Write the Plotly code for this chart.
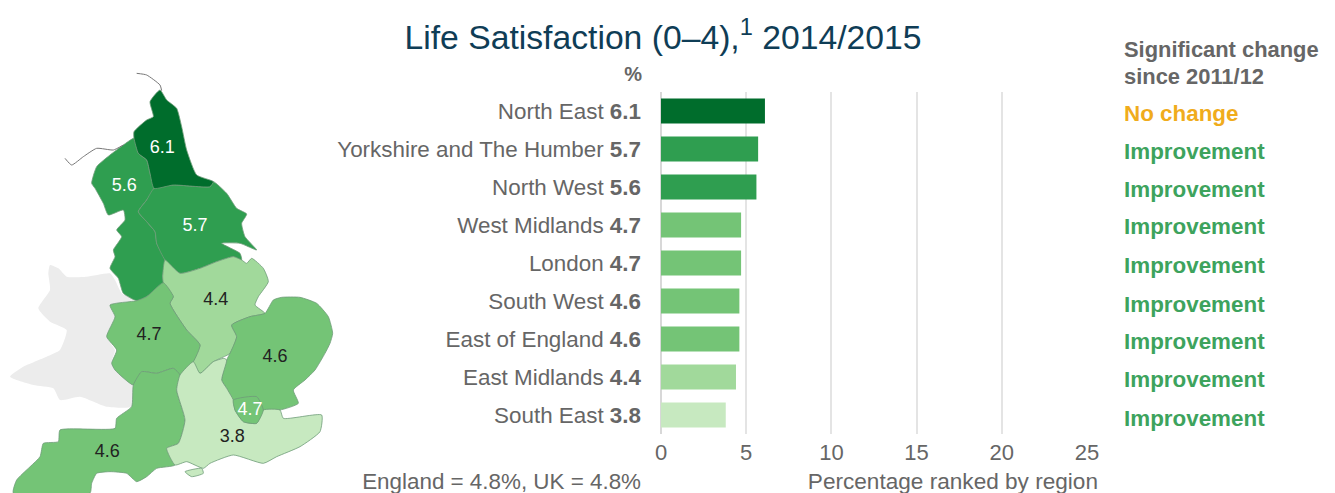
import plotly.graph_objects as go

FONT = "Liberation Sans"
GREY = "#666666"

regions = ["North East", "Yorkshire and The Humber", "North West", "West Midlands", "London",
           "South West", "East of England", "East Midlands", "South East"]
values = [6.1, 5.7, 5.6, 4.7, 4.7, 4.6, 4.6, 4.4, 3.8]
bar_colors = ["#006d2c", "#2f9e50", "#2f9e50", "#74c476", "#74c476", "#74c476", "#74c476", "#a1d99b", "#c7e9c0"]
changes = ["No change"] + ["Improvement"] * 8
change_colors = ["#f0ac1c"] + ["#3da35d"] * 8
change_rows = [113, 151, 189, 226, 265, 304, 341, 379, 418]
x_ticks = [0, 5, 10, 15, 20, 25]

# Map outlines
wales = [(150,615),(175,625),(200,650),(260,650),(330,640),(345,660),(365,700),(400,720),(330,735),(345,770),(320,830),(345,870),(335,910),(400,975),(395,1040),(320,1040),(240,1010),(180,1020),(160,985),(100,975),(30,950),(70,920),(140,890),(180,870),(200,810),(150,785),(115,745),(150,690),(145,640)]
north_east = [(480,90),(500,120),(530,145),(545,200),(560,270),(590,345),(640,365),(630,380),(520,375),(462,385),(450,340),(440,300),(415,280),(402,235),(402,215),(440,180),(460,170),(450,125)]
north_west = [(402,235),(415,280),(440,300),(450,340),(462,385),(440,420),(415,455),(440,485),(465,515),(470,550),(495,600),(488,650),(490,668),(440,710),(410,722),(370,700),(355,655),(330,625),(345,590),(340,570),(365,530),(350,510),(375,480),(370,450),(325,465),(310,430),(285,385),(275,370),(290,320),(330,285),(370,255)]
yorkshire = [(462,385),(520,375),(630,380),(640,365),(680,400),(710,445),(740,462),(725,490),(735,530),(770,570),(720,550),(665,550),(720,580),(725,600),(700,590),(650,605),(600,625),(540,640),(495,600),(470,550),(465,515),(440,485),(415,455),(440,420)]
east_midlands = [(495,600),(540,640),(600,625),(650,605),(700,590),(725,600),(740,610),(755,595),(790,625),(805,665),(775,710),(765,735),(795,760),(750,770),(695,795),(710,830),(690,880),(640,905),(600,940),(580,905),(600,855),(560,810),(510,730),(520,710),(490,668),(488,650)]
west_midlands = [(490,668),(520,710),(510,730),(560,810),(600,855),(580,905),(540,945),(520,925),(470,940),(425,935),(400,975),(345,930),(335,910),(350,870),(320,830),(345,770),(330,735),(410,722),(440,710)]
east_england = [(695,795),(750,770),(795,760),(820,720),(845,712),(900,712),(950,730),(985,770),(998,820),(990,850),(975,880),(945,930),(915,960),(880,990),(895,1030),(840,1050),(790,1050),(770,1010),(700,1020),(680,985),(665,960),(680,900),(690,880),(710,830)]
london = [(700,1020),(770,1010),(790,1050),(770,1090),(730,1085),(705,1050)]
south_east = [(600,940),(640,905),(672,895),(680,900),(665,960),(680,985),(700,1020),(705,1050),(730,1085),(770,1090),(790,1050),(840,1050),(850,1075),(965,1065),(960,1115),(900,1160),(830,1190),(790,1210),(700,1185),(630,1210),(610,1225),(560,1205),(525,1215),(500,1165),(535,1150),(555,1080),(530,990),(540,945),(580,905)]
south_west = [(400,975),(425,935),(470,940),(520,925),(540,945),(530,990),(555,1080),(535,1150),(500,1165),(525,1215),(470,1225),(440,1250),(410,1265),(380,1240),(330,1235),(290,1240),(275,1270),(270,1299),(40,1299),(50,1260),(120,1190),(130,1150),(175,1145),(180,1110),(345,1105),(350,1075),(395,1040)]
wight = [(555,1235),(605,1225),(610,1240),(575,1250)]
coast_a = [(410,40),(440,45),(480,75),(485,92)]
coast_b = [(195,295),(215,315),(250,290),(290,265),(340,270),(370,255)]

map_shapes = [
    (wales, "#ececec"), (north_west, "#2f9e50"), (yorkshire, "#2f9e50"), (north_east, "#006d2c"),
    (east_midlands, "#a1d99b"), (west_midlands, "#74c476"), (south_west, "#74c476"),
    (east_england, "#74c476"), (south_east, "#c7e9c0"), (london, "#74c476"), (wight, "#c7e9c0"),
]
map_label_x = [487, 373, 585, 647, 447, 825, 750, 697, 322]
map_label_y = [265, 380, 500, 722, 827, 893, 1050, 1133, 1178]
map_label_text = ["6.1", "5.6", "5.7", "4.4", "4.7", "4.6", "4.7", "3.8", "4.6"]
map_label_colors = ["#ffffff", "#ffffff", "#ffffff", "#222222", "#222222", "#222222", "#ffffff", "#222222", "#222222"]


def page(px, py):
    """Full-page overlay axis position for a point given in page pixels."""
    return px * 3, (py - 60) * 3


fig = go.Figure()

for pts, color in map_shapes:
    line_color = "rgba(0,0,0,0)" if color == "#ececec" else "#6f9c78"
    fig.add_trace(go.Scatter(x=[p[0] for p in pts] + [pts[0][0]], y=[p[1] for p in pts] + [pts[0][1]],
                             mode="lines", fill="toself", fillcolor=color,
                             line=dict(color=line_color, width=0.8, shape="spline", smoothing=0.5),
                             xaxis="x2", yaxis="y2", hoverinfo="skip"))
for pts in (coast_a, coast_b):
    fig.add_trace(go.Scatter(x=[p[0] for p in pts], y=[p[1] for p in pts], mode="lines",
                             line=dict(color="#777777", width=1, shape="spline", smoothing=0.5),
                             xaxis="x2", yaxis="y2", hoverinfo="skip"))
fig.add_trace(go.Scatter(x=map_label_x, y=map_label_y, text=map_label_text, mode="text",
                         textfont=dict(family=FONT, size=18, color=map_label_colors),
                         xaxis="x2", yaxis="y2", hoverinfo="skip"))

fig.add_trace(go.Bar(x=values, y=regions, orientation="h", marker=dict(color=bar_colors, line_width=0),
                     width=0.66, xaxis="x", yaxis="y"))

page_texts = [
    (663, 41, "Life Satisfaction (0–4),<sup>1</sup> 2014/2015", "middle center", 33.7, "#0f3d56"),
    (1124, 52, "<b>Significant change</b>", "middle right", 21.9, GREY),
    (1124, 79, "<b>since 2011/12</b>", "middle right", 21.9, GREY),
    (642, 76, "<b>%</b>", "middle left", 20, GREY),
    (641, 483, "England = 4.8%, UK = 4.8%", "middle left", 22.4, GREY),
    (1098, 483, "Percentage ranked by region", "middle left", 22.6, GREY),
]
page_texts += [(1124, row + 2, f"<b>{c}</b>", "middle right", 22.4, col)
               for row, c, col in zip(change_rows, changes, change_colors)]
for px, py, text, pos, size, color in page_texts:
    x, y = page(px, py)
    fig.add_trace(go.Scatter(x=[x], y=[y], text=[text], mode="text", textposition=pos, cliponaxis=False,
                             textfont=dict(family=FONT, size=size, color=color),
                             xaxis="x2", yaxis="y2", hoverinfo="skip"))

fig.update_layout(
    width=1335, height=493, margin=dict(l=0, r=0, t=0, b=0), showlegend=False,
    paper_bgcolor="white", plot_bgcolor="rgba(0,0,0,0)",
    xaxis=dict(domain=[661 / 1335, 1087 / 1335], range=[0, 25], tickvals=x_ticks, automargin=False,
               showgrid=True, gridcolor="#e4e4e4", gridwidth=1.5, zeroline=True, zerolinecolor="#d8d8d8",
               tickfont=dict(family=FONT, size=22, color=GREY), ticks="", anchor="y", ticklabelstandoff=3),
    yaxis=dict(domain=[1 - 434 / 493, 1 - 92 / 493], categoryorder="array", categoryarray=regions,
               autorange="reversed", tickmode="array", tickvals=regions, automargin=False,
               ticktext=[f"{r} <b>{v}</b>" for r, v in zip(regions, values)],
               tickfont=dict(family=FONT, size=22.4, color=GREY), ticks="", ticklabelstandoff=19,
               showgrid=False, anchor="x"),
    xaxis2=dict(domain=[0, 1], range=[0, 4005], visible=False, anchor="y2", fixedrange=True, automargin=False),
    yaxis2=dict(domain=[0, 1], range=[1299, -180], visible=False, anchor="x2", fixedrange=True, automargin=False),
)

fig.write_html("out.html", config=dict(displayModeBar=False),
               post_script="document.body.style.margin='0';document.body.style.overflow='hidden';")
